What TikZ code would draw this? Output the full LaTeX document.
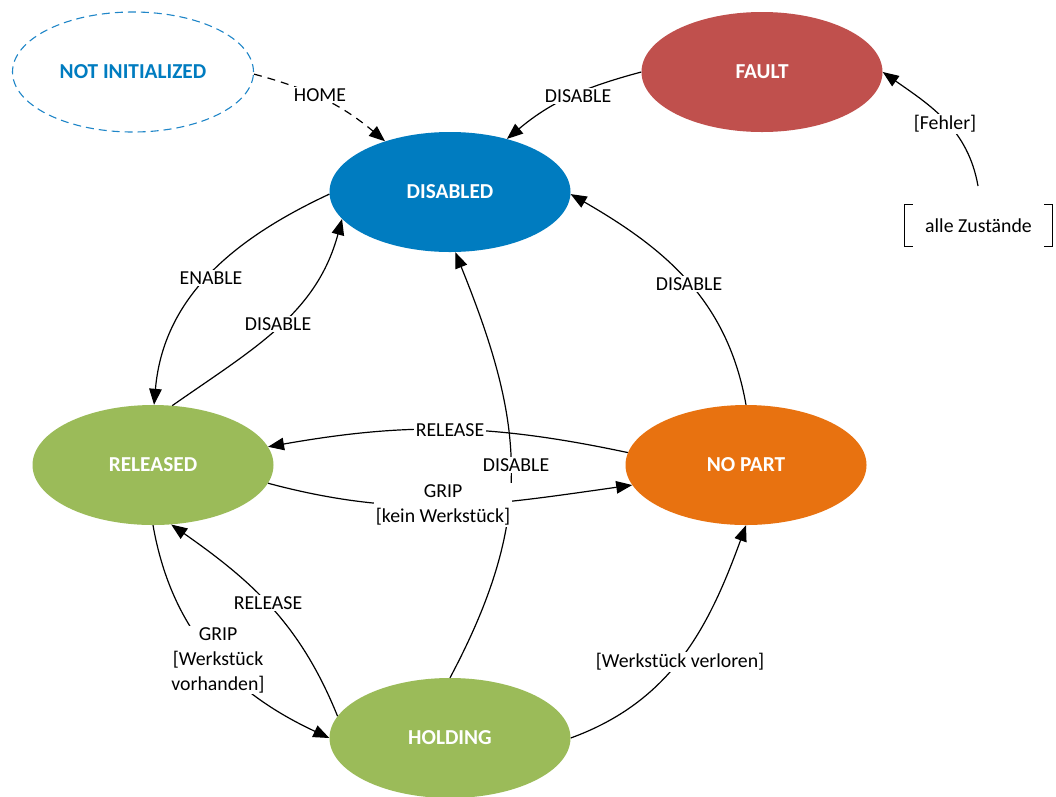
\documentclass[tikz,border=0pt]{standalone}
\usepackage{fontspec}
\setmainfont{Carlito}
\usetikzlibrary{arrows.meta,shapes.geometric}
\definecolor{cblue}{HTML}{007CC0}
\definecolor{cdash}{HTML}{1F86C8}
\definecolor{cred}{HTML}{C0504D}
\definecolor{cgreen}{HTML}{9BBB59}
\definecolor{corange}{HTML}{E87210}
\begin{document}
\begin{tikzpicture}[x=1pt,y=1pt,
  font=\fontsize{19.8}{25}\selectfont,
  state/.style={ellipse,minimum width=241pt,minimum height=120pt,inner sep=0pt,
    text=white,font=\fontsize{21.3}{25}\selectfont\bfseries},
  conn/.style={line width=1.2pt,-{Triangle[length=16pt,width=12.5pt]}},
  lbl/.style={fill=white,inner sep=1.5pt,align=center}]
\clip (0,0) rectangle (1056,-796);
\fill[white] (0,0) rectangle (1056,-796);

\node[state,draw=cdash,dash pattern=on 8pt off 5pt,line width=1.1pt,text=cblue] (ni) at (133,-72) {NOT INITIALIZED};
\node[state,fill=cred] (fault) at (762,-72) {FAULT};
\node[state,fill=cblue] (dis) at (450,-192) {DISABLED};
\node[state,fill=cgreen] (rel) at (153,-465) {RELEASED};
\node[state,fill=corange] (np) at (746,-465) {NO PART};
\node[state,fill=cgreen] (hold) at (450,-738) {HOLDING};

\node[minimum width=147pt,minimum height=41pt,inner sep=0pt] (az) at (978.5,-225.5) {alle Zustände};
\draw[line width=1.2pt] ([xshift=8pt]az.north west) -- (az.north west) -- (az.south west) -- ([xshift=8pt]az.south west);
\draw[line width=1.2pt] ([xshift=-8pt]az.north east) -- (az.north east) -- (az.south east) -- ([xshift=-8pt]az.south east);
\coordinate (azTop) at (978,-186);

% connectors
\draw[conn,dash pattern=on 8pt off 6pt] (ni.-1) to[out=-15,in=140] (dis.142);
\draw[conn] (fault.180) to[out=195,in=40] (dis.43);
\draw[conn] (azTop) to[out=100,in=-35] (fault.0);
\draw[conn] (dis.181) to[out=205,in=85] (rel.89);
\draw[conn] (rel.72) to[out=35,in=255] (dis.194);
\draw[conn] (np.90) to[out=100,in=-30] (dis.359);
\draw[conn] (hold.90) to[out=62,in=-68,looseness=1.1] (dis.275);
\draw[conn] (np.174) to[out=168,in=10] (rel.9);
\draw[conn] (rel.351) to[out=-15,in=188] (np.190);
\draw[conn] (rel.270) to[out=-80,in=155] (hold.180);
\draw[conn] (hold.169) to[out=112,in=-35] (rel.287);
\draw[conn] (hold.0) to[out=20,in=250] (np.270);

% labels
\node[lbl] (lHome) at (320,-95) {HOME};
\node[lbl] (lDisF) at (578,-96) {DISABLE};
\node[lbl] (lFehler) at (945,-124) {{[}Fehler]};
\node[lbl] (lEnable) at (211,-278) {ENABLE};
\node[lbl] (lDisR) at (278,-324) {DISABLE};
\node[lbl] (lDisN) at (689,-284) {DISABLE};
\node[lbl] (lDisH) at (516,-465) {DISABLE};
\node[lbl] (lRelN) at (450,-430) {RELEASE};
\node[lbl] (lGripK) at (443,-505) {GRIP\\{[}kein Werkstück]};
\node[lbl] (lRelH) at (268,-603) {RELEASE};
\node[lbl] (lGripW) at (218,-660) {GRIP\\{[}Werkstück\\vorhanden]};
\node[lbl] (lLost) at (680,-662) {{[}Werkstück verloren]};
\end{tikzpicture}
\end{document}
